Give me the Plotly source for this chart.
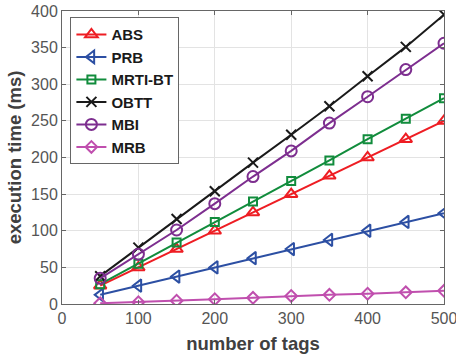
import plotly.graph_objects as go

# number of tags on the x axis
tags = [50, 100, 150, 200, 250, 300, 350, 400, 450, 500]

# execution time (ms) for each protocol
abs_ms = [25, 50, 75, 100, 125, 150, 175, 200, 225, 250]
prb_ms = [12.5, 25, 37.5, 50, 62.5, 75, 87.5, 100, 112, 124]
mrti_bt_ms = [27, 55, 84, 112, 140, 168, 196, 225, 253, 281]
obtt_ms = [38, 77, 116, 154, 193, 231, 270, 311, 351, 395]
mbi_ms = [35, 68, 101, 137, 174, 209, 247, 283, 320, 356]
mrb_ms = [1, 2.5, 4.5, 6.5, 8.5, 11, 12.5, 14, 16, 18]

x_ticks = [0, 100, 200, 300, 400, 500]
y_ticks = [0, 50, 100, 150, 200, 250, 300, 350, 400]

series = [
    ("ABS", abs_ms, "#ee1d23", "triangle-up-open", 11),
    ("PRB", prb_ms, "#2c4fa3", "triangle-left-open", 11),
    ("MRTI-BT", mrti_bt_ms, "#118c3c", "square-open", 8),
    ("OBTT", obtt_ms, "#1a1a1a", "x-thin-open", 10),
    ("MBI", mbi_ms, "#7d2e8f", "circle-open", 11),
    ("MRB", mrb_ms, "#c04fae", "diamond-open", 9),
]

fig = go.Figure()
for name, vals, color, symbol, size in series:
    fig.add_trace(go.Scatter(
        x=tags, y=vals, name=name, mode="lines+markers",
        line=dict(color=color, width=2),
        marker=dict(symbol=symbol, size=size, color=color,
                    line=dict(color=color, width=2)),
    ))

font_family = "Liberation Sans, Arial"
axis_common = dict(
    showline=True, mirror="ticks", linecolor="#666666", linewidth=1,
    ticks="inside", ticklen=4, tickcolor="#666666",
    showgrid=True, gridcolor="#e3e3e3", gridwidth=1,
    zeroline=False, automargin=False, ticklabeloverflow="allow",
    tickfont=dict(family=font_family, size=16, color="#555555"),
)

fig.update_xaxes(
    range=[0, 500], tickvals=x_ticks,
    title=dict(text="<b>number of tags</b>", standoff=10,
               font=dict(family=font_family, size=18.5, color="#404040")),
    **axis_common,
)
fig.update_yaxes(
    range=[0, 400], tickvals=y_ticks,
    title=dict(text="<b>execution time (ms)</b>", standoff=4,
               font=dict(family=font_family, size=18.5, color="#404040")),
    **axis_common,
)

fig.update_layout(
    width=456, height=360,
    margin=dict(l=62, r=12, t=11, b=56),
    paper_bgcolor="white", plot_bgcolor="white",
    showlegend=True,
    legend=dict(
        x=0.022, y=0.979, xanchor="left", yanchor="top",
        bgcolor="white", bordercolor="#666666", borderwidth=1,
        font=dict(family=font_family, size=15, color="#1a1a1a", weight="bold"),
        tracegroupgap=0, itemwidth=30,
    ),
)

fig.write_html("out.html")
